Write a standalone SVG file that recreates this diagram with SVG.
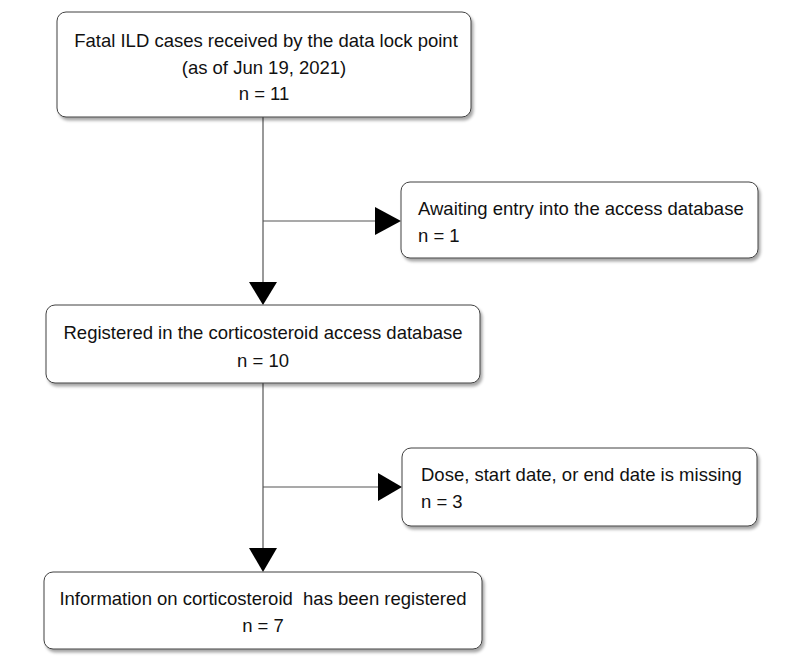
<svg xmlns="http://www.w3.org/2000/svg" width="800" height="666" viewBox="0 0 800 666">
<style>
.box{fill:#fff;stroke:#404040;stroke-width:1;filter:url(#sh)}
.t{font-family:"Liberation Sans",Arial,sans-serif;font-size:18.5px;fill:#111;white-space:pre}
.c{text-anchor:middle}
.ln{stroke:#555;stroke-width:1.2;fill:none}
.ah{fill:#000}
</style>
<defs>
<filter id="sh" x="-10%" y="-10%" width="120%" height="130%">
<feDropShadow dx="2" dy="3" stdDeviation="1.5" flood-color="#000" flood-opacity="0.35"/>
</filter>
</defs>
<rect width="800" height="666" fill="#fff"/>
<g id="connectors">
<line class="ln" x1="263" y1="117" x2="263" y2="284"/>
<line class="ln" x1="263" y1="221" x2="377" y2="221"/>
<polygon class="ah" points="375,207 401,221 375,235"/>
<polygon class="ah" points="249,282 277,282 263,305"/>
<line class="ln" x1="263" y1="383" x2="263" y2="549"/>
<line class="ln" x1="263" y1="487" x2="380" y2="487"/>
<polygon class="ah" points="378,473 402,487 378,501"/>
<polygon class="ah" points="249,548 277,548 263,572"/>
</g>
<g id="n1">
<rect class="box" x="57" y="12" width="414" height="105" rx="9"/>
<text class="t c" x="266" y="47">Fatal ILD cases received by the data lock point</text>
<text class="t c" x="264" y="74">(as of Jun 19, 2021)</text>
<text class="t c" x="264" y="100">n = 11</text>
</g>
<g id="n2">
<rect class="box" x="401" y="182" width="357" height="76" rx="9"/>
<text class="t" x="418" y="215">Awaiting entry into the access database</text>
<text class="t" x="418" y="242">n = 1</text>
</g>
<g id="n3">
<rect class="box" x="46" y="305" width="434" height="78" rx="9"/>
<text class="t c" x="263" y="339">Registered in the corticosteroid access database</text>
<text class="t c" x="263" y="367">n = 10</text>
</g>
<g id="n4">
<rect class="box" x="402" y="448" width="355" height="78" rx="9"/>
<text class="t" x="421" y="481">Dose, start date, or end date is missing</text>
<text class="t" x="421" y="508">n = 3</text>
</g>
<g id="n5">
<rect class="box" x="44" y="572" width="438" height="77" rx="9"/>
<text class="t c" x="263" y="605" xml:space="preserve">Information on corticosteroid  has been registered</text>
<text class="t c" x="263" y="632">n = 7</text>
</g>
</svg>
